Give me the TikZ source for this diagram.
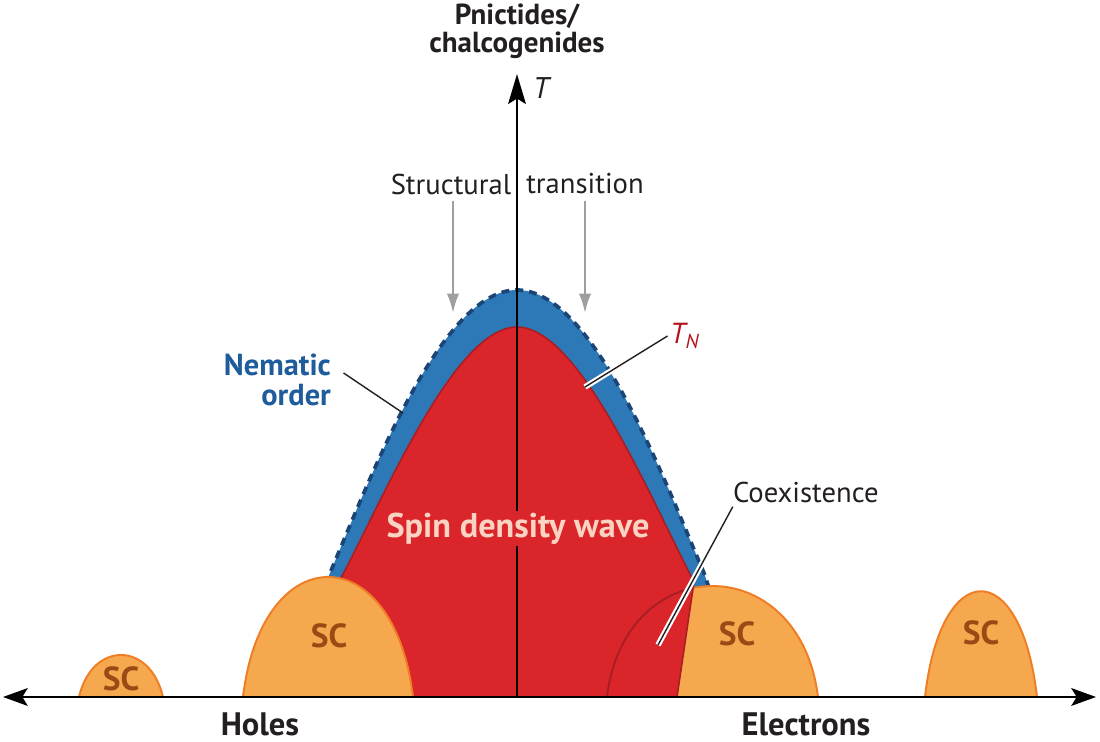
\documentclass[tikz,border=0pt]{standalone}
\usepackage{fontspec}
\setmainfont{PT Sans}
\usetikzlibrary{arrows.meta}

\definecolor{sdwred}{HTML}{DA262B}
\definecolor{sdwedge}{HTML}{A81E23}
\definecolor{nemblue}{HTML}{2D78B6}
\definecolor{nemdash}{HTML}{1B4577}
\definecolor{nemtext}{HTML}{1F5C9C}
\definecolor{scfill}{HTML}{F5A84E}
\definecolor{scedge}{HTML}{EE7D23}
\definecolor{sctext}{HTML}{9A4A14}
\definecolor{sdwtext}{HTML}{FBD3C3}
\definecolor{textdark}{HTML}{231F20}
\definecolor{tnred}{HTML}{B5121B}

\begin{document}
\begin{tikzpicture}[x=0.02cm,y=-0.02cm,
    dome/.style={fill=scfill,draw=scedge,line width=1.1pt},
    sclabel/.style={text=sctext,font=\fontsize{19}{21}\selectfont\bfseries},
    axislabel/.style={text=textdark,inner sep=0pt,font=\fontsize{18.5}{20}\selectfont\bfseries},
    note/.style={text=textdark,font=\fontsize{16.3}{18}\selectfont},
    leader/.style={draw=textdark,line width=0.8pt},
    halo/.style={leader,preaction={draw=white,line width=3.2pt}},
    axisline/.style={draw=black,line width=1.7pt},
    grayarrow/.style={draw=gray!75,line width=1.2pt,-{Latex[length=11pt,width=7pt]}}]
    \useasboundingbox (0,0) rectangle (1100,742);

    % nematic dome
    \fill[nemblue] (290,697) .. controls (305,650) and (318,605) .. (327,580)
        .. controls (370,480) and (440,290) .. (517,290)
        .. controls (594,290) and (664,480) .. (704,573)
        .. controls (714,600) and (720,650) .. (725,697) -- cycle;
    \draw[nemdash,line width=2.1pt,dash pattern=on 4.5pt off 3.4pt]
        (305,650) .. controls (315,615) and (320,600) .. (327,580)
        .. controls (370,480) and (440,290) .. (517,290)
        .. controls (594,290) and (664,480) .. (704,573)
        .. controls (710,590) and (714,605) .. (716,620);

    % SC dome right of the axis
    \draw[dome] (607,697) .. controls (625,549) and (800,549) .. (818,697);

    % spin density wave
    \fill[sdwred] (298,697) .. controls (315,650) and (330,605) .. (340,580)
        .. controls (385,495) and (455,327) .. (517,327)
        .. controls (579,327) and (649,495) .. (694,582) -- (677,697) -- cycle;
    \draw[sdwedge,line width=0.9pt] (315,640) .. controls (325,612) and (333,595) .. (340,580)
        .. controls (385,495) and (455,327) .. (517,327)
        .. controls (579,327) and (649,495) .. (694,582) -- (677,697);

    % coexistence
    \begin{scope}
        \clip (596,560) -- (694,582) -- (677,697) -- (596,697) -- cycle;
        \draw[sdwedge,line width=1.1pt] (607,697) .. controls (625,549) and (800,549) .. (818,697);
    \end{scope}

    % other SC domes
    \draw[dome] (79,697) .. controls (92,641) and (150,641) .. (163,697);
    \draw[dome] (243,697) .. controls (262,537) and (394,537) .. (413,697);
    \draw[dome] (925,697) .. controls (941,556) and (1021,556) .. (1037,697);

    % draw axes
    \coordinate (origin) at (517,697);
    \coordinate (ttop) at (517,74);
    \coordinate (xleft) at (3,697);
    \coordinate (xright) at (1096,697);
    \draw[axisline,-{Stealth[length=17pt,width=10pt,inset=3pt]}] (origin) -- (ttop);
    \draw[axisline,{Stealth[length=14pt,width=10pt,inset=3pt]}-{Stealth[length=14pt,width=10pt,inset=3pt]}] (xleft) -- (xright);
    \node[text=textdark,font=\fontsize{17}{19}\selectfont\itshape,anchor=west] (tlab) at (527,88) {T};
    \node[text=textdark,font=\fontsize{16.5}{16}\selectfont\bfseries,align=center,inner sep=0pt] (comp) at (517,31) {Pnictides/\\chalcogenides};

    % region labels
    \node[fill=sdwred,inner sep=1pt,text=sdwtext,font=\fontsize{19.5}{21}\selectfont\bfseries] (sdw) at (518,529) {Spin density wave};
    \node[sclabel] (sc1) at (121,679) {SC};
    \node[sclabel] (sc2) at (329,636) {SC};
    \node[sclabel] (sc3) at (737,634) {SC};
    \node[sclabel] (sc4) at (981,633) {SC};
    \node[axislabel] (holes) at (260,724) {Holes};
    \node[axislabel] (elec) at (806,724) {Electrons};

    % structural transition
    \node[note] (struct) at (451,184) {Structural};
    \node[note] (trans) at (585,184) {transition};
    \coordinate (stA) at (453,313);
    \coordinate (stB) at (585,313);
    \draw[grayarrow] (struct.south -| stA) -- (stA);
    \draw[grayarrow] (trans.south -| stB) -- (stB);

    % leaders
    \node[text=nemtext,font=\fontsize{17.3}{17}\selectfont\bfseries,align=right,anchor=east,inner sep=1pt] (nem) at (333,380) {Nematic\\order};
    \coordinate (nemend) at (403,413);
    \draw[leader] ([xshift=6pt,yshift=4pt]nem.east) -- (nemend);
    \node[text=tnred,font=\fontsize{16.5}{18}\selectfont\itshape,anchor=west] (tn) at (664,336) {T\textsubscript{N}};
    \coordinate (tnend) at (585,387);
    \draw[halo] ([xshift=2pt]tn.west) -- (tnend);
    \node[note,anchor=south west,inner sep=1pt] (coex) at (731,505) {Coexistence};
    \coordinate (coexend) at (658,645);
    \draw[halo] ([xshift=1pt,yshift=-1pt]coex.south west) -- (coexend);
\end{tikzpicture}
\end{document}
